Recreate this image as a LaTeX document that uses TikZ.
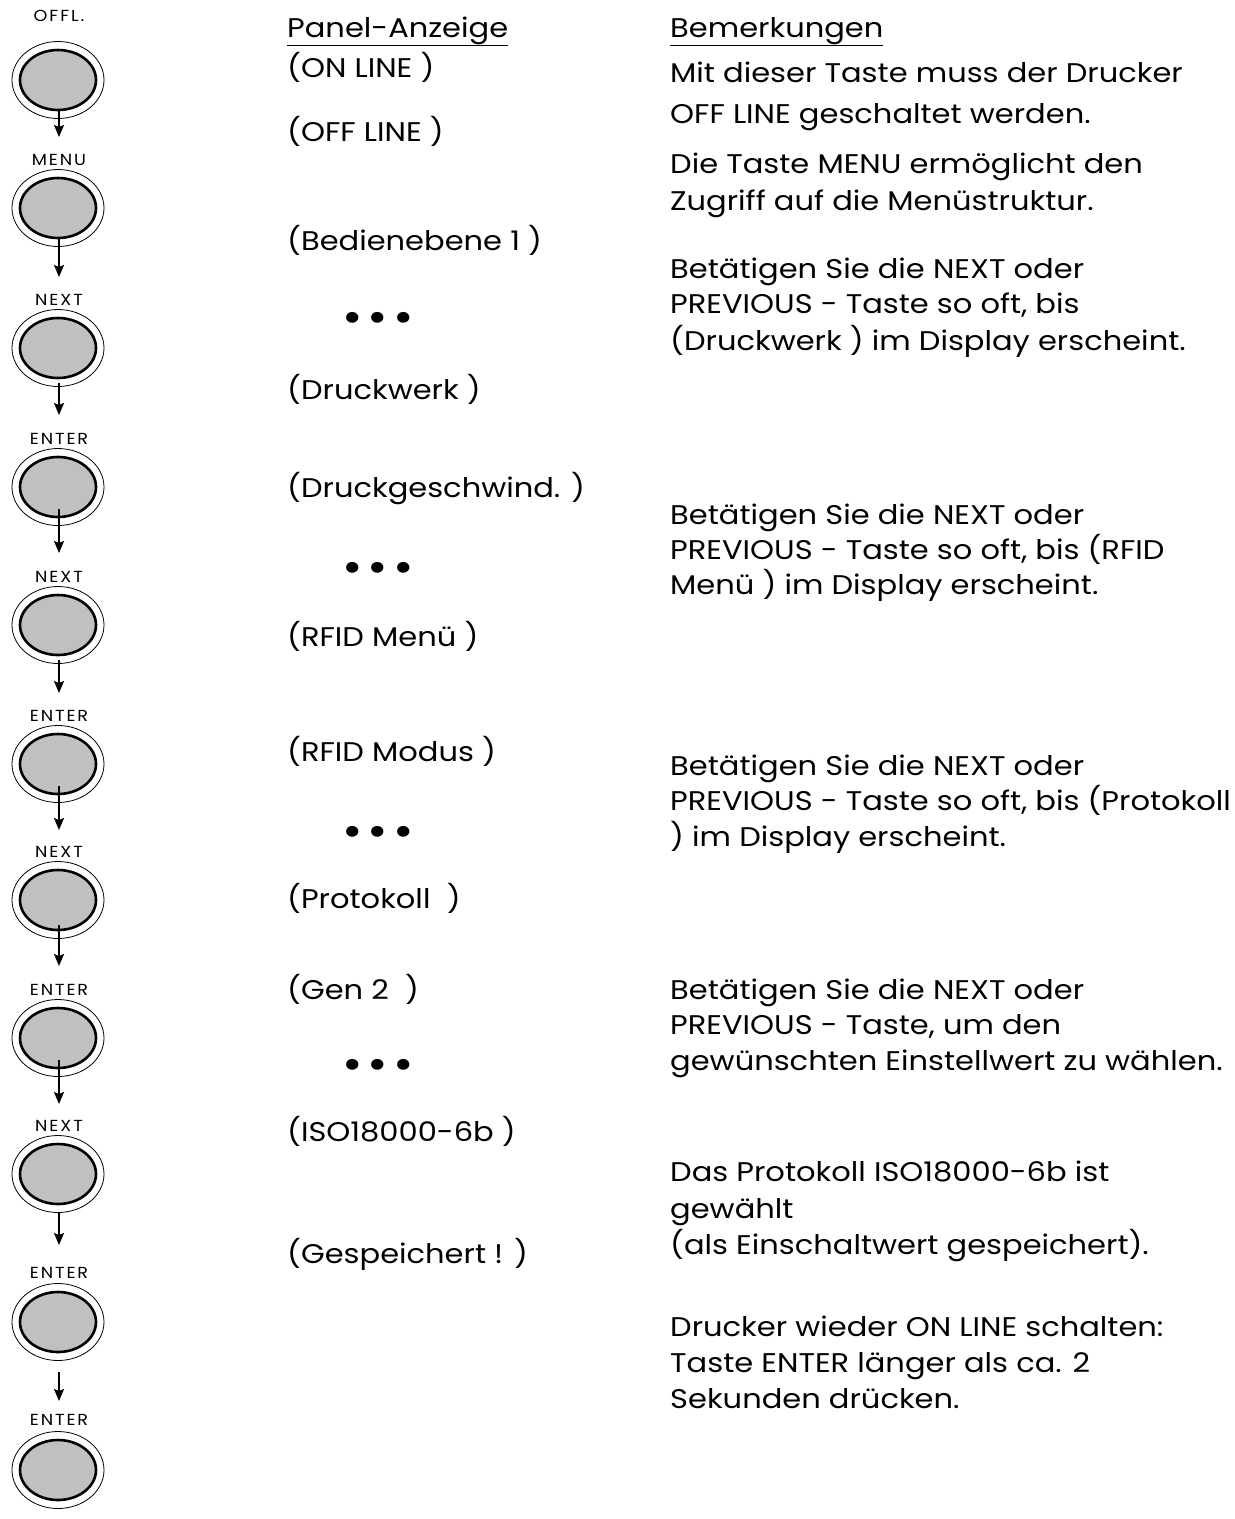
\documentclass[tikz,border=0pt]{standalone}
\usepackage{fontspec}
\setmainfont{Poppins}[FakeStretch=1.13]
\newfontfamily\keyfont{Poppins}[LetterSpace=12,FakeStretch=1.1]
\usetikzlibrary{shapes.geometric,arrows.meta}
\definecolor{keygray}{RGB}{192,192,192}
\begin{document}
\begin{tikzpicture}[x=1pt,y=-1pt,
  txt/.style={anchor=base west, inner sep=0pt, font=\fontsize{27}{36}\selectfont},
  keylabel/.style={anchor=base, inner sep=0pt, font=\keyfont\fontsize{16}{18}\selectfont},
  keyring/.style={ellipse, draw, line width=0.8pt, minimum width=92pt, minimum height=77pt, inner sep=0pt},
  keycap/.style={ellipse, draw, line width=2.6pt, fill=keygray, minimum width=76pt, minimum height=60pt, inner sep=0pt},
  keyarrow/.style={line width=1.6pt, -{Stealth[length=12pt,width=10pt,inset=2pt]}},
  dotrow/.style={anchor=center, inner sep=0pt, font=\fontsize{44}{44}\selectfont}
]
\useasboundingbox (0,0) rectangle (1235,1519);

% ---- keys ----
\newcommand\mykey[4]{% name, label, label baseline, centre
  \node[keylabel] (#1l) at (59,#3) {#2};
  \node[keyring] (#1r) at (58,#4) {};
  \node[keycap] (#1) at (58,#4) {};
}
\mykey{k1}{OFFL.}{21}{80}
\mykey{k2}{MENU}{165}{208}
\mykey{k3}{NEXT}{305}{348}
\mykey{k4}{ENTER}{444}{487}
\mykey{k5}{NEXT}{582}{625}
\mykey{k6}{ENTER}{721}{764}
\mykey{k7}{NEXT}{857}{900}
\mykey{k8}{ENTER}{995}{1038}
\mykey{k9}{NEXT}{1131}{1174}
\mykey{k10}{ENTER}{1278}{1322}
\mykey{k11}{ENTER}{1425}{1470}

% arrows
\newcommand\myarrow[3]{%
  \coordinate (#1s) at (59,#2);
  \coordinate (#1e) at (59,#3);
  \draw[keyarrow] (#1s) -- (#1e);
}
\myarrow{a1}{111}{137}
\myarrow{a2}{239}{277}
\myarrow{a3}{383}{415}
\myarrow{a4}{509}{553}
\myarrow{a5}{660}{693}
\myarrow{a6}{786}{830}
\myarrow{a7}{925}{966}
\myarrow{a8}{1060}{1104}
\myarrow{a9}{1212}{1245}
\myarrow{a10}{1372}{1401}

% ---- panel column ----
\node[txt] (ph) at (287,37) {\underline{Panel-Anzeige}};
\node[txt] (p1) at (287,77) {(ON LINE )};
\node[txt] (p2) at (287,141) {(OFF LINE )};
\node[txt] (p3) at (287,250) {(Bedienebene 1 )};
\node[dotrow] (d1) at (378,322) {•\hspace{5pt}•\hspace{5pt}•};
\node[txt] (p4) at (287,399) {(Druckwerk )};
\node[txt] (p5) at (287,497) {(Druckgeschwind. )};
\node[dotrow] (d2) at (378,572) {•\hspace{5pt}•\hspace{5pt}•};
\node[txt] (p6) at (287,646) {(RFID Menü )};
\node[txt] (p7) at (287,761) {(RFID Modus )};
\node[dotrow] (d3) at (378,836) {•\hspace{5pt}•\hspace{5pt}•};
\node[txt] (p8) at (287,908) {(Protokoll\ \ )};
\node[txt] (p9) at (287,999) {(Gen 2\ \ )};
\node[dotrow] (d4) at (378,1069) {•\hspace{5pt}•\hspace{5pt}•};
\node[txt] (p10) at (287,1141) {(ISO18000-6b )};
\node[txt] (p11) at (287,1263) {(Gespeichert ! )};

% ---- remarks column ----
\node[txt] (rh) at (670,37) {\underline{Bemerkungen}};
\node[txt] (r1a) at (670,82) {Mit dieser Taste muss der Drucker};
\node[txt] (r1b) at (670,123) {OFF LINE geschaltet werden.};
\node[txt] (r2a) at (670,173) {Die Taste MENU ermöglicht den};
\node[txt] (r2b) at (670,210) {Zugriff auf die Menüstruktur.};
\node[txt] (r3a) at (670,278) {Betätigen Sie die NEXT oder};
\node[txt] (r3b) at (670,313) {PREVIOUS - Taste so oft, bis};
\node[txt] (r3c) at (670,350) {(Druckwerk ) im Display erscheint.};
\node[txt] (r4a) at (670,524) {Betätigen Sie die NEXT oder};
\node[txt] (r4b) at (670,559) {PREVIOUS - Taste so oft, bis (RFID};
\node[txt] (r4c) at (670,594) {Menü ) im Display erscheint.};
\node[txt] (r5a) at (670,775) {Betätigen Sie die NEXT oder};
\node[txt] (r5b) at (670,810) {PREVIOUS - Taste so oft, bis (Protokoll};
\node[txt] (r5c) at (670,846) {) im Display erscheint.};
\node[txt] (r6a) at (670,999) {Betätigen Sie die NEXT oder};
\node[txt] (r6b) at (670,1034) {PREVIOUS - Taste, um den};
\node[txt] (r6c) at (670,1070) {gewünschten Einstellwert zu wählen.};
\node[txt] (r7a) at (670,1181) {Das Protokoll ISO18000-6b ist};
\node[txt] (r7b) at (670,1218) {gewählt};
\node[txt] (r7c) at (670,1254) {(als Einschaltwert gespeichert).};
\node[txt] (r8a) at (670,1336) {Drucker wieder ON LINE schalten:};
\node[txt] (r8b) at (670,1372) {Taste ENTER länger als ca. 2};
\node[txt] (r8c) at (670,1408) {Sekunden drücken.};
\end{tikzpicture}
\end{document}
